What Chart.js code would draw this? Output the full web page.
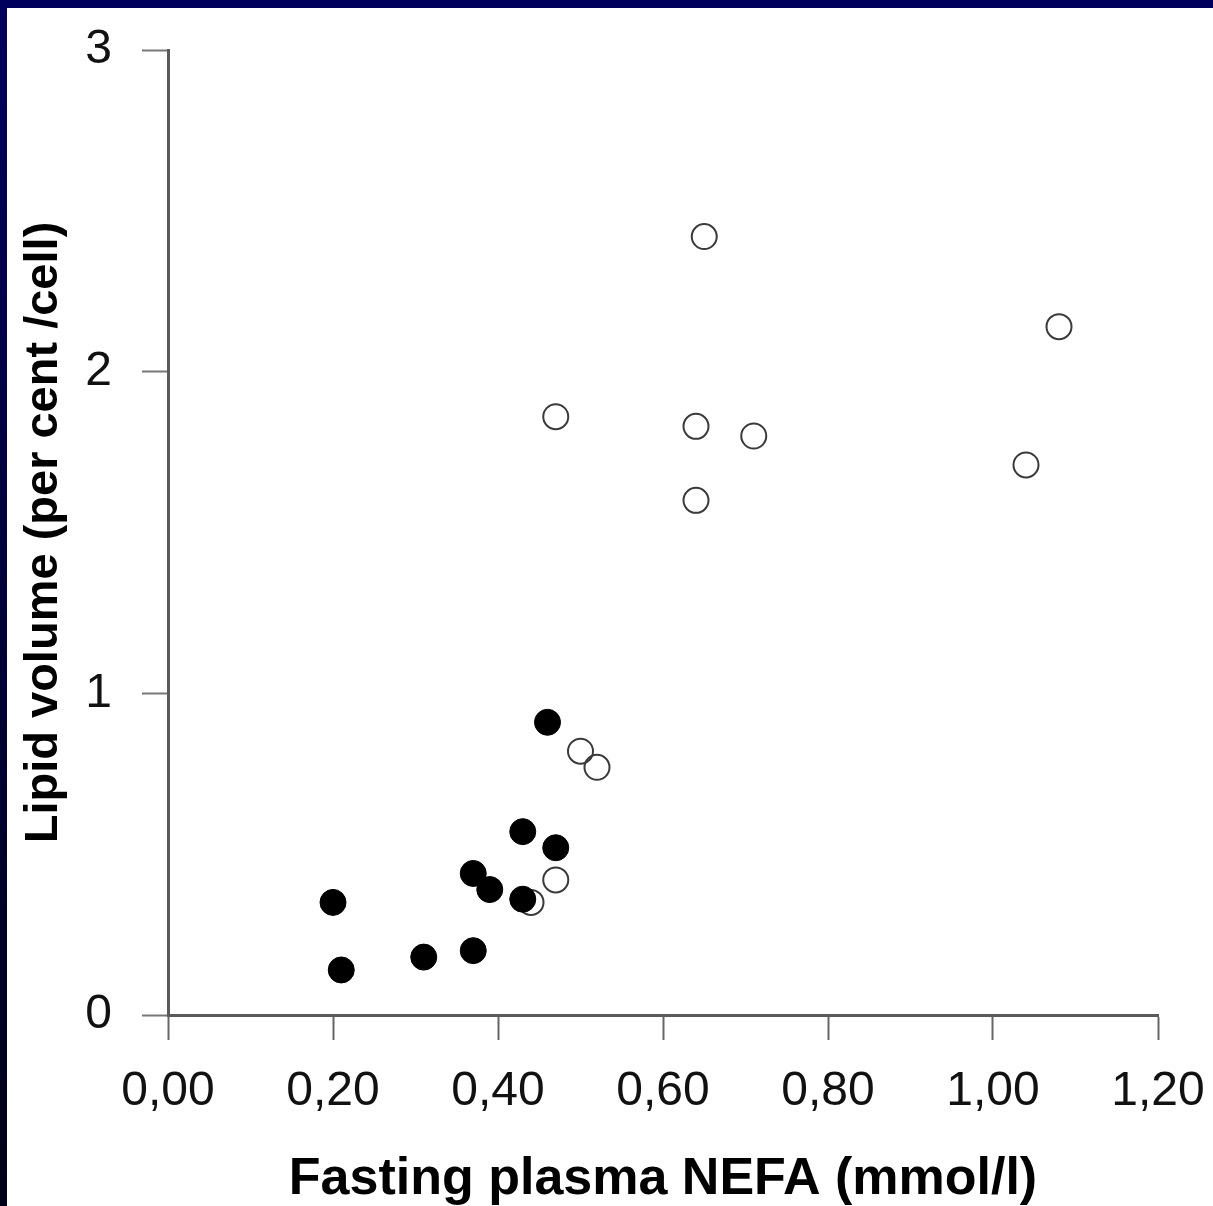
<!DOCTYPE html>
<html>
<head>
<meta charset="utf-8">
<script src="https://cdn.jsdelivr.net/npm/chart.js@4/dist/chart.umd.min.js"></script>
<style>
  html, body { margin: 0; padding: 0; }
  body {
    width: 1213px; height: 1206px; overflow: hidden;
    background: linear-gradient(#00005c, #000018);
  }
  #wrap {
    position: absolute; left: 7px; top: 8px;
    width: 1206px; height: 1198px; background: #fff;
  }
</style>
</head>
<body>
<div id="wrap"><canvas id="chart" width="1206" height="1198"></canvas></div>
<script>
// filled circles
var filledX = [0.20, 0.21, 0.31, 0.37, 0.37, 0.39, 0.43, 0.43, 0.47, 0.46];
var filledY = [0.35, 0.14, 0.18, 0.20, 0.44, 0.39, 0.36, 0.57, 0.52, 0.91];

// open circles
var openX = [0.47, 0.44, 0.50, 0.52, 0.47, 0.64, 0.64, 0.65, 0.71, 1.04, 1.08];
var openY = [0.42, 0.35, 0.82, 0.77, 1.86, 1.83, 1.60, 2.42, 1.80, 1.71, 2.14];

var xTickLabels = ["0,00", "0,20", "0,40", "0,60", "0,80", "1,00", "1,20"];
var yTickLabels = ["0", "1", "2", "3"];

function toPoints(xs, ys){
  return xs.map(function(x, i){ return {x: x, y: ys[i]}; });
}

var ctx = document.getElementById("chart").getContext("2d");

new Chart(ctx, {
  type: "scatter",
  data: {
    datasets: [
      {
        label: "filled",
        data: toPoints(filledX, filledY),
        pointRadius: 13,
        pointBorderWidth: 1,
        backgroundColor: "#000",
        borderColor: "#000"
      },
      {
        label: "open",
        data: toPoints(openX, openY),
        pointRadius: 12.5,
        pointBorderWidth: 2,
        backgroundColor: "rgba(0,0,0,0)",
        borderColor: "#3a3a3a"
      }
    ]
  },
  options: {
    responsive: false,
    animation: false,
    devicePixelRatio: 1,
    layout: { padding: { top: 42, right: 55, left: 0, bottom: 0 } },
    plugins: { legend: { display: false }, tooltip: { enabled: false } },
    scales: {
      x: {
        type: "linear",
        min: 0, max: 1.2,
        // fixed box, label overflow handled by layout padding
        afterFit: function(scale){
          scale.height = 191;
          scale.paddingLeft = 0;
          scale.paddingRight = 0;
        },
        border: { display: true, color: "#5a5a5a", width: 3 },
        grid: { drawOnChartArea: false, drawTicks: true, tickLength: 25, tickColor: "#666", tickWidth: 2 },
        ticks: {
          stepSize: 0.2,
          padding: 23,
          color: "#111",
          font: { family: "Liberation Sans, Arial, sans-serif", size: 48 },
          maxRotation: 0,
          callback: function(v, i){ return xTickLabels[i]; }
        },
        title: {
          display: true,
          text: "Fasting plasma NEFA (mmol/l)",
          color: "#000",
          font: { family: "Liberation Sans, Arial, sans-serif", size: 52, weight: "bold", lineHeight: 1 },
          padding: { top: 0, bottom: 0 }
        }
      },
      y: {
        type: "linear",
        min: 0, max: 3,
        afterFit: function(scale){
          scale.width = 161;
          scale.paddingTop = 0;
          scale.paddingBottom = 0;
        },
        border: { display: true, color: "#5a5a5a", width: 3 },
        grid: { drawOnChartArea: false, drawTicks: true, tickLength: 26, tickColor: "#777", tickWidth: 2 },
        ticks: {
          stepSize: 1,
          padding: 30,
          color: "#111",
          font: { family: "Liberation Sans, Arial, sans-serif", size: 48 },
          callback: function(v, i){ return yTickLabels[i]; }
        },
        title: {
          display: true,
          text: "Lipid volume (per cent /cell)",
          color: "#000",
          font: { family: "Liberation Sans, Arial, sans-serif", size: 47, weight: "bold" },
          padding: { top: 9, bottom: 0 }
        }
      }
    }
  }
});
</script>
</body>
</html>
